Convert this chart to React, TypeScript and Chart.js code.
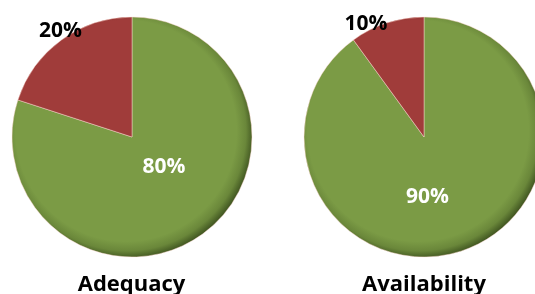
import React, { useEffect, useRef } from "react";
import { Chart, registerables } from "chart.js";

Chart.register(...registerables);

const categories = ["Yes", "No"];
const adequacyValues = [80, 20];
const availabilityValues = [90, 10];
const chartTitles = ["Adequacy", "Availability"];

const sliceColors = ["#7B9B45", "#A03C3A"];
const midRimColors = ["#6A873A", "#8C3432"];
const rimColors = ["#3F5420", "#5A1C1B"];
const labelColors = ["#FFFFFF", "#000000"];

const FONT = '"Open Sans", "Liberation Sans", sans-serif';
const RADIUS = 120;

const labelPlugin = {
  id: "pctLabels",
  afterDatasetsDraw(chart: any, _args: any, opts: any) {
    const meta = chart.getDatasetMeta(0);
    const ctx = chart.ctx;
    const data = chart.data.datasets[0].data;
    let cx = 0;
    meta.data.forEach((arc: any, i: number) => {
      const { x, y } = arc.getProps(["x", "y"], true);
      cx = x;
      const off = opts.offsets[i];
      ctx.save();
      ctx.font = "bold 21px " + FONT;
      ctx.fillStyle = labelColors[i];
      ctx.textAlign = "center";
      ctx.textBaseline = "alphabetic";
      ctx.fillText(data[i] + "%", x + off[0], y + off[1] + 7.5);
      ctx.restore();
    });
    ctx.save();
    ctx.font = "bold 22px " + FONT;
    ctx.fillStyle = "#000000";
    ctx.textAlign = "center";
    ctx.textBaseline = "alphabetic";
    ctx.fillText(opts.title, cx + opts.titleDx, opts.titleY);
    ctx.restore();
  },
};

function sliceFill(c: any) {
  const i = c.dataIndex ?? 0;
  const chart = c.chart;
  const area = chart.chartArea;
  if (!area) return sliceColors[i];
  const cx = (area.left + area.right) / 2;
  const cy = (area.top + area.bottom) / 2;
  const g = chart.ctx.createRadialGradient(cx - 12, cy - 14, 0, cx - 5, cy - 5, RADIUS + 7);
  g.addColorStop(0, sliceColors[i]);
  g.addColorStop(0.87, sliceColors[i]);
  g.addColorStop(0.94, midRimColors[i]);
  g.addColorStop(1, rimColors[i]);
  return g;
}

function PieCanvas(props: {
  values: number[];
  title: string;
  width: number;
  left: number;
  offsets: number[][];
  titleDx: number;
}) {
  const ref = useRef<HTMLCanvasElement | null>(null);
  useEffect(() => {
    if (!ref.current) return;
    const chart = new Chart(ref.current, {
      type: "pie",
      data: {
        labels: categories,
        datasets: [
          {
            data: props.values,
            backgroundColor: sliceFill,
            borderColor: "rgba(255,220,210,0.45)",
            borderWidth: 1,
          },
        ],
      },
      options: {
        animation: false,
        responsive: false,
        radius: RADIUS,
        layout: { padding: { left: 0, right: 0, top: 0, bottom: 20 } },
        plugins: {
          legend: { display: false },
          tooltip: { enabled: false },
          pctLabels: {
            offsets: props.offsets,
            title: props.title,
            titleDx: props.titleDx,
            titleY: 291,
          },
        } as any,
      },
      plugins: [labelPlugin],
    } as any);
    return () => chart.destroy();
  }, []);
  return (
    <canvas
      ref={ref}
      width={props.width}
      height={294}
      style={{ position: "absolute", left: props.left, top: 0, width: props.width, height: 294 }}
    />
  );
}

export default function App() {
  return (
    <div
      style={{
        position: "absolute",
        left: 0,
        top: 0,
        width: 535,
        height: 294,
        overflow: "hidden",
        background: "#ffffff",
      }}
    >
      <PieCanvas
        values={adequacyValues}
        title={chartTitles[0]}
        width={264}
        left={0}
        offsets={[
          [32, 28],
          [-71.5, -107.5],
        ]}
        titleDx={-0.5}
      />
      <PieCanvas
        values={availabilityValues}
        title={chartTitles[1]}
        width={300}
        left={274}
        offsets={[
          [3.5, 58.5],
          [-58, -114.5],
        ]}
        titleDx={0}
      />
    </div>
  );
}
